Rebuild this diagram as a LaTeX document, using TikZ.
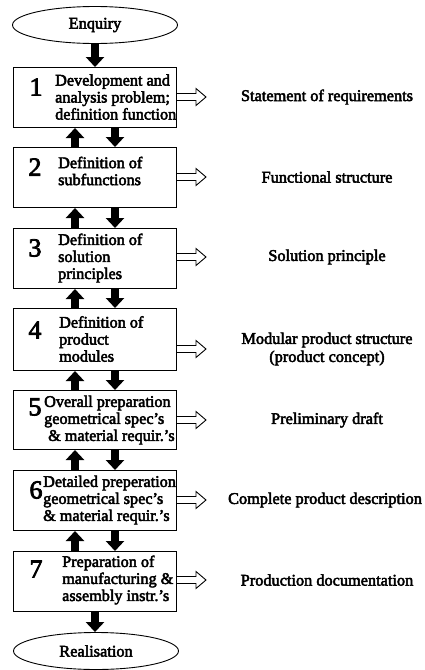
\documentclass[tikz,border=0pt]{standalone}
\usepackage{fontspec}
\setmainfont{Liberation Serif}[RawFeature={embolden=3}]
\usetikzlibrary{arrows.meta,shapes.geometric}

\tikzset{
  stage/.style={draw, line width=1pt, rectangle, minimum width=163, minimum height=60, anchor=north west, inner sep=0pt},
  terminal/.style={draw, line width=0.9pt, ellipse, minimum width=165, minimum height=37, inner sep=0pt,
                   font=\fontsize{16.3}{17}\selectfont},
  stagenum/.style={font=\fontsize{26}{26}\selectfont, inner sep=0pt},
  stagetext/.style={anchor=west, align=left, inner sep=0pt, font=\fontsize{16.2}{17}\selectfont},
  result/.style={align=center, inner sep=0pt, font=\fontsize{16.3}{18}\selectfont},
  flow/.style={line width=8.5pt, -{Triangle[length=10pt 0 0, width=18pt 0 0]}},
  hollowarrow/.pic={
    \draw[line width=0.9pt, line join=miter]
      (0,-3.5) -- (19,-3.5) -- (19,-8.5) -- (29,0) -- (19,8.5) -- (19,3.5) -- (0,3.5);
  }
}

\begin{document}
\begin{tikzpicture}[x=1pt, y=-1pt]
\useasboundingbox (0,0) rectangle (424,670);

% columns of the vertical arrows
\coordinate (mainx) at (95,0);
\coordinate (upx) at (75,0);
\coordinate (downx) at (115,0);

% start and end
\node[terminal] (enq) at (95,25) {Enquiry};
\node[terminal] (real) at (96,651) {Realisation};

% stage boxes
\node[stage] (b1) at (13,67) {};
\node[stage] (b2) at (13,147) {};
\node[stage] (b3) at (13,228) {};
\node[stage, minimum height=62] (b4) at (13,308) {};
\node[stage, minimum height=59] (b5) at (13,390) {};
\node[stage] (b6) at (13,470) {};
\node[stage, minimum height=60] (b7) at (13,551) {};

% stage numbers
\node[stagenum] (n1) at (36,87) {1};
\node[stagenum] (n2) at (35,167) {2};
\node[stagenum] (n3) at (35,248) {3};
\node[stagenum] (n4) at (35,330) {4};
\node[stagenum] (n5) at (35,407) {5};
\node[stagenum] (n6) at (36,490) {6};
\node[stagenum] (n7) at (36,569) {7};

% stage descriptions
\node[stagetext] (t1) at (55,97) {Development and\\analysis problem;\\definition function};
\node[stagetext] (t2) at (58,171) {Definition of\\subfunctions};
\node[stagetext] (t3) at (58,258) {Definition of\\solution\\principles};
\node[stagetext] (t4) at (59,339) {Definition of\\product\\modules};
\node[stagetext] (t5) at (44,420) {Overall preparation\\geometrical spec's\\\hspace{4pt}\& material requir.'s};
\node[stagetext] (t6) at (43,500) {Detailed preperation\\geometrical spec's\\\& material requir.'s};
\node[stagetext] (t7) at (62,580) {Preparation of\\manufacturing \&\\assembly instr.'s};

% results of each stage
\node[result] (r1) at (327,97) {Statement of requirements};
\node[result] (r2) at (327,177) {Functional structure};
\node[result] (r3) at (327,257) {Solution principle};
\node[result] (r4) at (327,349) {Modular product structure\\(product concept)};
\node[result] (r5) at (327,420) {Preliminary draft};
\node[result] (r6) at (325,500) {Complete product description};
\node[result] (r7) at (327,580) {Production documentation};

% output arrows
\pic at (b1.east |- r1) {hollowarrow};
\pic at (b2.east |- r2) {hollowarrow};
\pic at (b3.east |- r3) {hollowarrow};
\pic at (b4.east |- r4) {hollowarrow};
\pic at (b5.east |- r5) {hollowarrow};
\pic at (b6.east |- r6) {hollowarrow};
\pic at (b7.east |- r7) {hollowarrow};

% main flow
\draw[flow] (enq.south -| mainx) -- (b1.north -| mainx);
\draw[flow] (b7.south -| mainx) -- (real.north -| mainx);

% iteration arrows between stages
\foreach \a/\b in {b1/b2, b2/b3, b3/b4, b4/b5, b5/b6, b6/b7} {
  \draw[flow] (\a.south -| downx) -- (\b.north -| downx);
  \draw[flow] (\b.north -| upx) -- (\a.south -| upx);
}
\end{tikzpicture}
\end{document}
